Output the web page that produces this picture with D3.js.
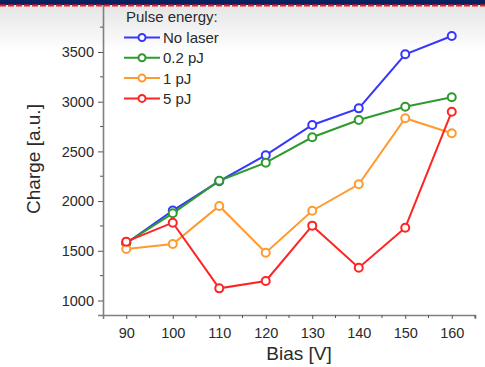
<!DOCTYPE html>
<html>
<head>
<meta charset="utf-8">
<script src="https://cdn.jsdelivr.net/npm/d3@7"></script>
<style>
  html, body { margin: 0; padding: 0; background: #fff; }
  svg { display: block; }
  text { font-family: "Liberation Sans", Arial, sans-serif; fill: #2a2a2a; }
</style>
</head>
<body>
<svg id="chart" width="485" height="367"></svg>
<script>
// Bias voltages (V)
const bias = [90, 100, 110, 120, 130, 140, 150, 160];

// Collected charge (a.u.) per pulse energy
const noLaser = [1575, 1905, 2200, 2462, 2766, 2933, 3477, 3661];
const pJ02    = [1580, 1877, 2205, 2387, 2642, 2816, 2950, 3044];
const pJ1     = [1518, 1568, 1951, 1481, 1903, 2169, 2833, 2682];
const pJ5     = [1592, 1783, 1122, 1196, 1753, 1330, 1732, 2899];

const seriesNames  = ["No laser", "0.2 pJ", "1 pJ", "5 pJ"];
const seriesColors = ["#3636ff", "#2e9a2e", "#ff9a2e", "#ff2424"];
const seriesValues = [noLaser, pJ02, pJ1, pJ5];

const xTicks = [90, 100, 110, 120, 130, 140, 150, 160];
const yTicks = [1000, 1500, 2000, 2500, 3000, 3500];

const svg = d3.select("#chart");
const W = 485, H = 367;

// Background: soft grey-to-white fade under a navy header strip
const defs = svg.append("defs");
const grad = defs.append("linearGradient").attr("id", "bg").attr("x1", 0).attr("y1", 0).attr("x2", 0).attr("y2", 1);
grad.append("stop").attr("offset", "0").attr("stop-color", "#e2e2e2");
grad.append("stop").attr("offset", "0.14").attr("stop-color", "#ffffff");
grad.append("stop").attr("offset", "1").attr("stop-color", "#ffffff");
svg.append("rect").attr("width", W).attr("height", H).attr("fill", "url(#bg)");

const plot = { left: 103, right: 475, top: 0, bottom: 315 };

const x = d3.scaleLinear().domain([85, 165]).range([plot.left, plot.right]);
const y = d3.scaleLinear().domain([854, 4000]).range([plot.bottom, 300.5 - (4000 - 1000) * 49.7 / 500]);

// Axes
const xAxis = d3.axisBottom(x).tickValues(xTicks).tickSize(4).tickPadding(9).tickFormat(d3.format("d"));
const yAxis = d3.axisLeft(y).tickValues(yTicks).tickSize(5).tickPadding(4).tickFormat(d3.format("d"));

const gx = svg.append("g").attr("transform", `translate(0,${plot.bottom})`).call(xAxis);
const gy = svg.append("g").attr("transform", `translate(${plot.left},0)`).call(yAxis);

// Minor ticks
const xMinor = d3.range(95, 166, 10);
gx.selectAll(".minor").data(xMinor).enter().append("line")
  .attr("x1", d => x(d)).attr("x2", d => x(d)).attr("y1", 0).attr("y2", 3)
  .attr("stroke", "#555").attr("stroke-width", 1);
const yMinor = d3.range(1250, 4000, 500);
gy.selectAll(".minor").data(yMinor).enter().append("line")
  .attr("y1", d => y(d)).attr("y2", d => y(d)).attr("x1", 0).attr("x2", -3)
  .attr("stroke", "#555").attr("stroke-width", 1);

[gx, gy].forEach(g => {
  g.select(".domain").attr("stroke", "#808080").attr("stroke-width", 1.6);
  g.selectAll(".tick line").attr("stroke", "#555").attr("stroke-width", 1);
  g.selectAll(".tick text").attr("font-size", 14.5).attr("fill", "#2a2a2a")
    .style("font-family", "'Liberation Sans', Arial, sans-serif");
});

// Axis titles
svg.append("text").attr("x", 299).attr("y", 360).attr("text-anchor", "middle")
  .attr("font-size", 19).text("Bias [V]");
svg.append("text").attr("transform", "translate(39.5,159) rotate(-90)").attr("text-anchor", "middle")
  .attr("font-size", 19).text("Charge [a.u.]");

// Series lines and markers
const line = d3.line().x((d, i) => x(bias[i])).y(d => y(d));
seriesValues.forEach((vals, k) => {
  const g = svg.append("g");
  g.append("path").datum(vals).attr("d", line).attr("fill", "none")
    .attr("stroke", seriesColors[k]).attr("stroke-width", 2);
  g.selectAll("circle").data(vals).enter().append("circle")
    .attr("cx", (d, i) => x(bias[i])).attr("cy", d => y(d)).attr("r", 4)
    .attr("fill", "#fff").attr("stroke", seriesColors[k]).attr("stroke-width", 2);
});

// Legend
const leg = svg.append("g").attr("transform", "translate(124,0)");
leg.append("text").attr("x", 2).attr("y", 22).attr("font-size", 15).text("Pulse energy:");
seriesNames.forEach((name, k) => {
  const yy = 37.5 + k * 20.3;
  leg.append("line").attr("x1", 0).attr("x2", 36).attr("y1", yy).attr("y2", yy)
    .attr("stroke", seriesColors[k]).attr("stroke-width", 2);
  leg.append("circle").attr("cx", 18).attr("cy", yy).attr("r", 3.5)
    .attr("fill", "#fff").attr("stroke", seriesColors[k]).attr("stroke-width", 2);
  leg.append("text").attr("x", 39).attr("y", yy + 5.5).attr("font-size", 15).text(name);
});

// Header strip with dashed red rule
svg.append("rect").attr("x", 0).attr("y", 0).attr("width", W).attr("height", 5).attr("fill", "#0a1f5e");
svg.append("line").attr("x1", 0).attr("x2", W).attr("y1", 5.5).attr("y2", 5.5)
  .attr("stroke", "#ff1a1a").attr("stroke-width", 2).attr("stroke-dasharray", "6,2");
</script>
</body>
</html>
